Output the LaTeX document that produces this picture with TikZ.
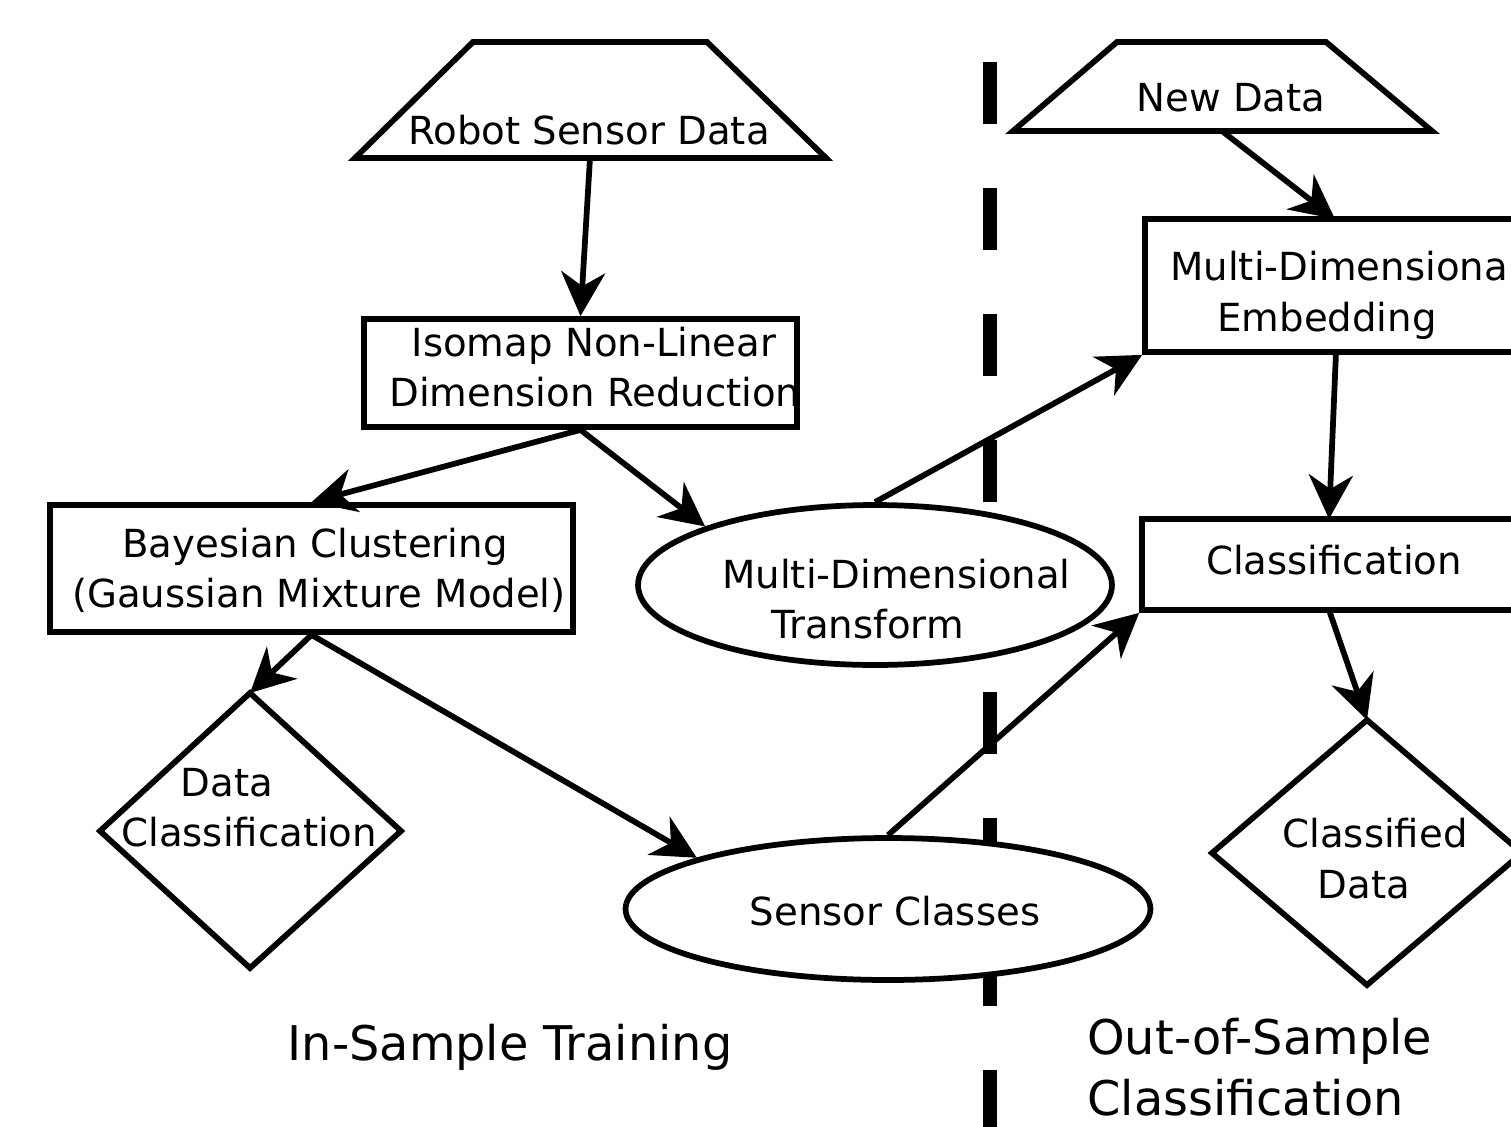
\documentclass[tikz,border=0pt]{standalone}
\usepackage{fontspec}
\setmainfont{DejaVu Sans}
\usetikzlibrary{arrows.meta,shapes.geometric,calc}

\begin{document}
\begin{tikzpicture}[x=0.02cm,y=-0.02cm,
  outline/.style={draw, line width=0.115cm, line join=miter, fill=white},
  box/.style={outline, rectangle, inner sep=0pt},
  oval/.style={outline, ellipse, inner sep=0pt},
  flow/.style={line width=0.115cm, -{Stealth[length=0.88cm,width=0.88cm,inset=0.28cm]}},
  txt/.style={font=\fontsize{22}{26}\selectfont, inner sep=0pt, anchor=base},
  caption/.style={font=\fontsize{27.2}{32}\selectfont, inner sep=0pt, anchor=base},
  divider/.style={line width=0.28cm, dash pattern=on 1.24cm off 1.28cm}
]
\useasboundingbox (0,0) rectangle (1511,1126);
\clip (0,0) rectangle (1511,1126);

% vertical divider between training and classification
\draw[divider] (990,62) -- (990,1200);

% ---------- in-sample training ----------
\draw[outline] (473,42) -- (707,42) -- (826,158) -- (355,158) -- cycle;
\node[txt] (rsd) at (589,144) {Robot Sensor Data};
\coordinate (rsd-out) at (590,158);

\node[box, minimum width=8.66cm, minimum height=2.16cm] (iso) at (580.5,373) {};
\begin{scope}
  \clip (iso.south west) rectangle (iso.north east);
  \node[txt] (iso-l1) at (594,356) {Isomap Non-Linear};
  \node[txt, anchor=base west] (iso-l2) at (389,406) {Dimension Reduction};
\end{scope}

\node[box, minimum width=10.46cm, minimum height=2.54cm] (bay) at (311.5,568.5) {};
\node[txt] (bay-l1) at (315,557) {Bayesian Clustering};
\node[txt] (bay-l2) at (319,607) {(Gaussian Mixture Model)};

\node[oval, minimum width=9.48cm, minimum height=3.2cm] (mdt) at (875,585) {};
\node[txt, anchor=base west] (mdt-l1) at (722,588) {Multi-Dimensional};
\node[txt, anchor=base west] (mdt-l2) at (771,638) {Transform};

\draw[outline] (250,693) -- (401,831) -- (250,968) -- (100,831) -- cycle;
\coordinate (dc-top) at (250,693);
\node[txt] (dc-l1) at (227,796) {Data};
\node[txt, anchor=base west] (dc-l2) at (121,846) {Classification};

\node[oval, minimum width=10.5cm, minimum height=2.84cm] (sc) at (888,909) {};
\node[txt] (sc-l) at (895,925) {Sensor Classes};

% ---------- out-of-sample classification ----------
\draw[outline] (1117,42) -- (1326,42) -- (1432,131) -- (1013,131) -- cycle;
\node[txt] (nd) at (1231,111) {New Data};
\coordinate (nd-out) at (1222,131);

\node[box, minimum width=8.3cm, minimum height=2.66cm] (emb) at (1352.5,285.5) {};
\node[txt, anchor=base west] (emb-l1) at (1170,280) {Multi-Dimensional};
\node[txt] (emb-l2) at (1327,331) {Embedding};
\coordinate (emb-in) at (1335,219);
\coordinate (emb-out) at (1336,352);

\node[box, minimum width=8.36cm, minimum height=1.82cm] (cls) at (1351,564.5) {};
\node[txt] (cls-l) at (1334,574) {Classification};
\coordinate (cls-in) at (1329,519);
\coordinate (cls-out) at (1329,610);

\draw[outline] (1367,720) -- (1522,853) -- (1367,985) -- (1212,853) -- cycle;
\coordinate (cd-top) at (1367,720);
\node[txt] (cd-l1) at (1375,847) {Classified};
\node[txt] (cd-l2) at (1364,898) {Data};

% ---------- connectors ----------
\draw[flow] (rsd-out) -- (iso.north);
\draw[flow] (iso.south) -- (bay.north);
\draw[flow] (iso.south) -- (mdt.161);
\draw[flow] (bay.south) -- (dc-top);
\draw[flow] (bay.south) -- (sc.165);
\draw[flow] (mdt.north) -- (emb.south west);
\draw[flow] (nd-out) -- (emb-in);
\draw[flow] (emb-out) -- (cls-in);
\draw[flow] (sc.north) -- (cls.south west);
\draw[flow] (cls-out) -- (cd-top);

% ---------- section captions ----------
\node[caption] (cap-in) at (510,1060) {In-Sample Training};
\node[caption, anchor=base west] (cap-out1) at (1087,1054) {Out-of-Sample};
\node[caption, anchor=base west] (cap-out2) at (1087,1115) {Classification};
\end{tikzpicture}
\end{document}
